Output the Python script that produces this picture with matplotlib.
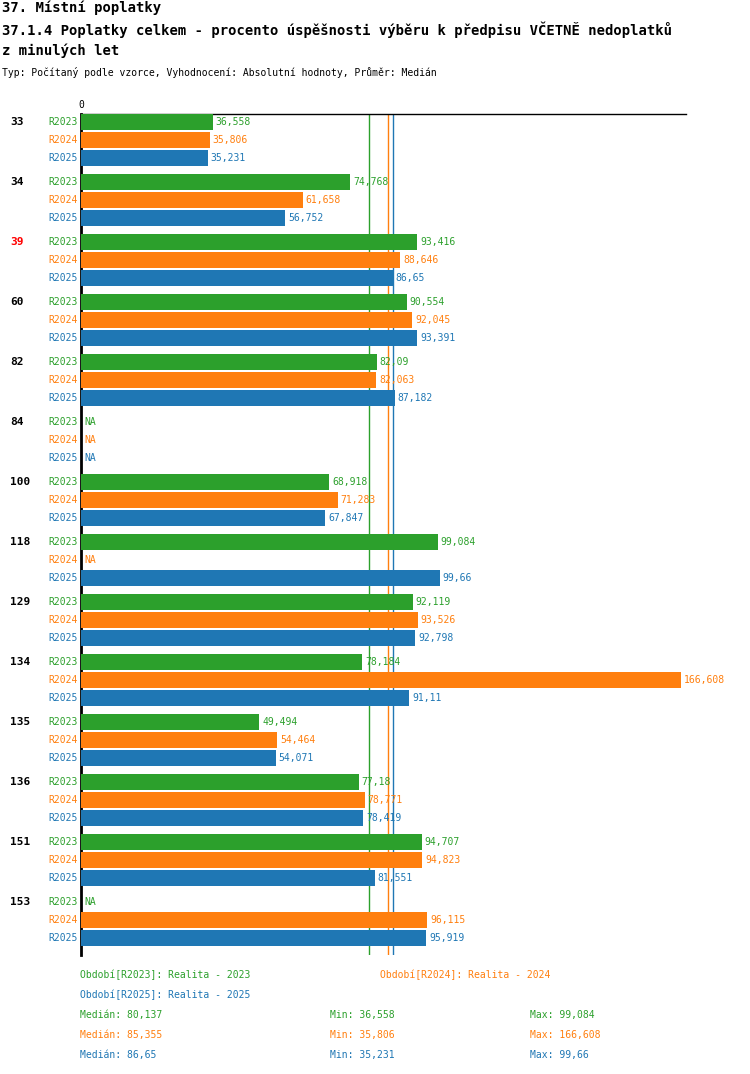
import matplotlib.pyplot as plt
import numpy as np

plt.rcParams['font.family'] = ['DejaVu Sans Mono']

GREEN, ORANGE, BLUE = '#2ca02c', '#ff7f0e', '#1f77b4'
colors = [GREEN, ORANGE, BLUE]
periods = ['R2023', 'R2024', 'R2025']

groups = ['33', '34', '39', '60', '82', '84', '100', '118', '129', '134', '135', '136', '151', '153']
values = {
    '33': [36.558, 35.806, 35.231],
    '34': [74.768, 61.658, 56.752],
    '39': [93.416, 88.646, 86.65],
    '60': [90.554, 92.045, 93.391],
    '82': [82.09, 82.063, 87.182],
    '84': [None, None, None],
    '100': [68.918, 71.283, 67.847],
    '118': [99.084, None, 99.66],
    '129': [92.119, 93.526, 92.798],
    '134': [78.184, 166.608, 91.11],
    '135': [49.494, 54.464, 54.071],
    '136': [77.18, 78.771, 78.419],
    '151': [94.707, 94.823, 81.551],
    '153': [None, 96.115, 95.919],
}
medians = [80.137, 85.355, 86.65]
mins = ['36,558', '35,806', '35,231']
maxs = ['99,084', '166,608', '99,66']

W, H = 750, 1074
fig = plt.figure(figsize=(W / 100, H / 100), dpi=100)
x0, x1, y0, y1 = 81, 686, 114, 955
ax = fig.add_axes([x0 / W, 1 - y1 / H, (x1 - x0) / W, (y1 - y0) / H])
scale = 3.6
ax.set_xlim(0, (x1 - x0) / scale)
ax.set_ylim(y1, y0)
ax.axis('off')
ax.plot([0, 0], [y0, y1], color='black', lw=2, clip_on=False)
ax.plot([0, (x1 - x0) / scale], [y0, y0], color='black', lw=1, clip_on=False)
ax.text(0, y0 - 4, '0', ha='center', va='bottom', fontsize=7)

for c, m in zip(colors, medians):
    ax.axvline(m, color=c, lw=1, zorder=1)

def fmt(v):
    s = ('%.3f' % v).rstrip('0').rstrip('.')
    return s.replace('.', ',')

for i, g in enumerate(groups):
    yc = 122 + 60 * i
    fig.text(10 / W, 1 - yc / H, g, fontsize=8, fontweight='bold', va='center',
             color='red' if g == '39' else 'black')
    for j, v in enumerate(values[g]):
        y = yc + 18 * j
        fig.text(78 / W, 1 - y / H, periods[j], fontsize=7, va='center', ha='right', color=colors[j])
        if v is None:
            ax.text(0.8, y, 'NA', fontsize=7, va='center', color=colors[j])
        else:
            ax.barh(y, v, height=16, color=colors[j], zorder=2)
            ax.text(v + 0.8, y, fmt(v), fontsize=7, va='center', color=colors[j])

fig.text(2 / W, 1 - 8 / H, '37. Místní poplatky', fontsize=10, fontweight='bold', va='center')
fig.text(2 / W, 1 - 30 / H, '37.1.4 Poplatky celkem - procento úspěšnosti výběru k předpisu VČETNĚ nedoplatků',
         fontsize=10, fontweight='bold', va='center')
fig.text(2 / W, 1 - 51 / H, 'z minulých let', fontsize=10, fontweight='bold', va='center')
fig.text(2 / W, 1 - 73 / H, 'Typ: Počítaný podle vzorce, Vyhodnocení: Absolutní hodnoty, Průměr: Medián',
         fontsize=7, va='center')

fig.text(80 / W, 1 - 975 / H, 'Období[R2023]: Realita - 2023', fontsize=7, va='center', color=GREEN)
fig.text(380 / W, 1 - 975 / H, 'Období[R2024]: Realita - 2024', fontsize=7, va='center', color=ORANGE)
fig.text(80 / W, 1 - 995 / H, 'Období[R2025]: Realita - 2025', fontsize=7, va='center', color=BLUE)
for j in range(3):
    y = 1 - (1015 + 20 * j) / H
    fig.text(80 / W, y, 'Medián: ' + fmt(medians[j]), fontsize=7, va='center', color=colors[j])
    fig.text(330 / W, y, 'Min: ' + mins[j], fontsize=7, va='center', color=colors[j])
    fig.text(530 / W, y, 'Max: ' + maxs[j], fontsize=7, va='center', color=colors[j])

plt.savefig('out.png', dpi=100)
